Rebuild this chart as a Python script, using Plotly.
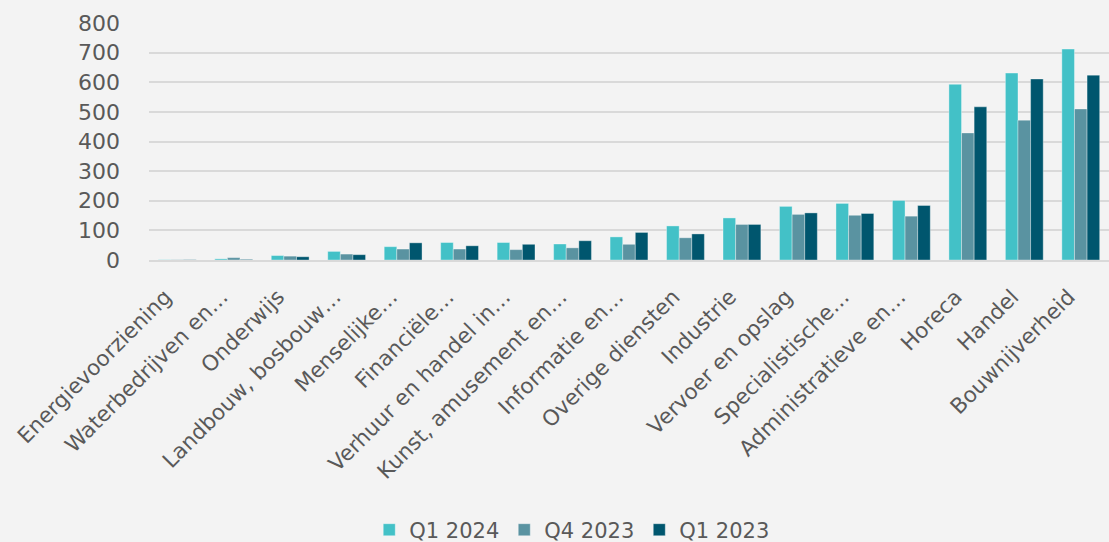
import plotly.graph_objects as go

categories = ["Energievoorziening", "Waterbedrijven en…", "Onderwijs", "Landbouw, bosbouw…",
              "Menselijke…", "Financiële…", "Verhuur en handel in…", "Kunst, amusement en…",
              "Informatie en…", "Overige diensten", "Industrie", "Vervoer en opslag",
              "Specialistische…", "Administratieve en…", "Horeca", "Handel", "Bouwnijverheid"]

q1_2024 = [1, 4, 15, 29, 45, 59, 59, 54, 78, 115, 142, 181, 191, 201, 593, 631, 712]
q4_2023 = [1, 8, 13, 20, 37, 37, 35, 41, 53, 75, 120, 154, 151, 148, 429, 472, 510]
q1_2023 = [1, 2, 11, 18, 58, 48, 53, 65, 93, 88, 120, 159, 157, 184, 517, 611, 624]

series = [("Q1 2024", q1_2024, "#43C1C7"),
          ("Q4 2023", q4_2023, "#5A93A1"),
          ("Q1 2023", q1_2023, "#00566E")]

FONT = "DejaVu Sans"
fig = go.Figure()
for name, vals, col in series:
    fig.add_trace(go.Bar(name=name, x=categories, y=vals, marker_color=col,
                         marker_line=dict(color="rgba(255,255,255,0.35)", width=1)))

fig.update_layout(
    width=1109, height=542,
    paper_bgcolor="#F3F3F3", plot_bgcolor="#F3F3F3",
    barmode="group", bargap=0.33, bargroupgap=0,
    margin=dict(l=149, r=0, t=23, b=282, autoexpand=False),
    font=dict(family=FONT, color="#595959"),
    xaxis=dict(tickangle=-45, tickfont=dict(size=21.5, color="#595959"), showgrid=False,
               showline=True, linecolor="#D9D9D9", linewidth=1.5, ticks="",
               ticklabelshift=-12, ticklabelstandoff=14),
    yaxis=dict(range=[0, 800], dtick=100, tickfont=dict(size=22, color="#595959"),
               gridcolor="#D9D9D9", gridwidth=1.5, zeroline=False, ticks="",
               ticklabelstandoff=28),
    legend=dict(orientation="h", xref="container", yref="container", x=0.516, y=0.022,
                xanchor="center", yanchor="middle", font=dict(size=21, color="#595959"),
                itemwidth=30, traceorder="normal"),
)

fig.write_html("out.html", config={"displayModeBar": False},
               post_script="document.body.style.margin='0';document.body.style.overflow='hidden';")
